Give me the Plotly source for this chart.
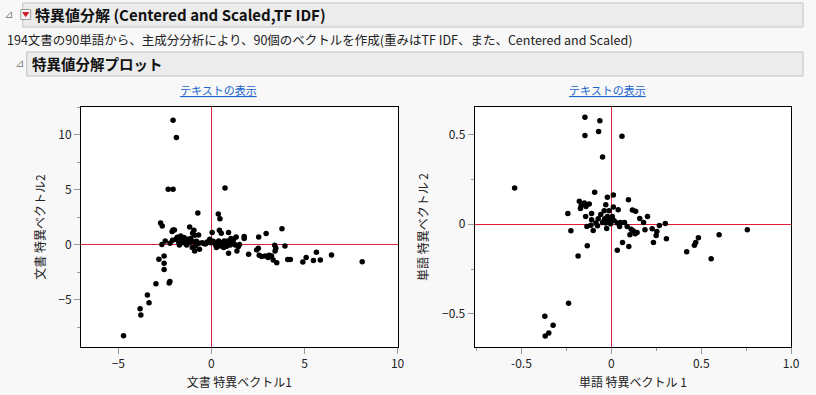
import plotly.graph_objects as go

W, H = 816, 395

# ---- data: document singular vectors (left plot) ----
doc_sv1 = [-2.06, -1.88, -2.32, -2.06, 0.73, -0.73, 0.37, 0.46, -2.73, -2.64,
           -1.17, 3.79, -2.06, -1.99, -2.11, -0.94, 0.04, 0.43, 0.53, 0.92,
           2.94, 2.54, 1.76, 1.76, 1.33, -0.69, -1.01, -0.90,
           -1.65, -1.83, -1.91, -2.09, -2.48, -2.66, -2.22, -1.72, -1.47, -1.38,
           -1.29, -1.21, -1.12, -1.03, -1.33, -1.51, -0.85, -0.67, -0.50, -0.32,
           -0.23, -0.09, -0.05, -1.03, -0.90, -0.64, -0.85, -1.65,
           0.21, 0.30, 0.39, 0.48, 0.66, 0.74, 0.83, 0.69, 0.92, 1.01,
           1.13, 1.19, 1.28, 1.37, 1.45, 1.51, 0.27, 0.57, 0.87, 1.05,
           2.00, 2.43, 2.52, 2.57, 2.70, 2.89, 3.05, 3.10, 3.23, 3.32,
           3.40, 3.46, 3.42, 3.51, 3.95, 4.10, 4.24, 4.91, 5.09, 5.48,
           5.64, 5.85, 6.45, 8.10,
           -2.82, -2.54, -2.54, -2.54, -2.23, -2.27, -2.98, -3.44, -3.35, -3.83,
           -3.79, -4.72,
           -1.55, -1.40, -1.10, -0.80, -0.40, 0.10, 0.60, 0.80, 1.20, -1.75]
doc_sv2 = [11.30, 9.73, 5.03, 5.03, 5.15, 2.88, 2.79, 2.36, 1.97, 1.70,
           1.61, 1.45, 1.33, 1.33, 1.18, 1.30, 1.09, 1.30, 1.03, 1.09,
           1.00, 0.70, 0.73, 0.55, 0.70, 0.88, 1.03, 0.85,
           0.79, 0.67, 0.48, 0.39, 0.33, 0.00, 0.12, -0.03, 0.64, 0.33,
           0.48, 0.18, 0.55, 0.33, -0.03, 0.18, 0.18, 0.12, 0.18, 0.06,
           0.24, 0.48, 0.18, -0.27, -0.58, -0.42, -0.12, 0.33,
           0.00, 0.18, 0.33, -0.12, -0.27, 0.12, -0.12, 0.33, -0.79, -0.03,
           0.18, 0.48, -0.03, -0.58, -0.18, 0.00, -0.27, 0.18, 0.33, 0.55,
           -0.88, -0.48, -0.33, -0.97, -1.09, -1.03, -1.18, -0.97, -1.03, -1.39,
           -0.06, -0.33, -0.58, -1.64, -0.12, -1.36, -1.36, -1.58, -1.18, -1.45,
           -0.70, -1.39, -0.94, -1.55,
           -1.33, -1.03, -1.70, -2.27, -3.36, -3.48, -3.55, -4.58, -5.27, -5.82,
           -6.39, -8.27,
           0.55, 0.40, 0.25, 0.30, 0.10, 0.30, 0.05, -0.15, 0.10, 0.20]

# ---- data: word singular vectors (right plot) ----
word_sv1 = [-0.147, -0.064, -0.147, -0.071, 0.059, -0.049, -0.538, -0.093, 0.011, -0.022,
            0.095, -0.178, -0.150, -0.123, -0.168, -0.141, -0.172, -0.031, 0.011, 0.038,
            -0.013, -0.040, 0.117, 0.135, -0.242, -0.110, -0.143, 0.201, 0.158, -0.110,
            -0.073, -0.037, -0.026, 0.000, 0.179, 0.033, 0.051, 0.073, 0.300, 0.267,
            -0.136, -0.114, -0.077, -0.026, 0.046, 0.088, 0.110, 0.121, 0.143, 0.132,
            0.103, 0.187, 0.227, 0.253, 0.249, 0.306, 0.234, -0.225, -0.101, 0.062,
            0.097, 0.033, -0.134, -0.185, 0.419, 0.462, 0.469, 0.484, 0.599, 0.555,
            0.756, -0.238, -0.370, -0.324, -0.348, -0.368,
            -0.049, -0.031, -0.013, -0.004, -0.040, -0.022, -0.059, 0.005, 0.015, -0.086]
word_sv2 = [0.595, 0.576, 0.493, 0.515, 0.489, 0.374, 0.201, 0.178, 0.162, 0.149,
            0.136, 0.128, 0.117, 0.112, 0.102, 0.098, 0.087, 0.108, 0.095, 0.080,
            0.074, 0.074, 0.078, 0.072, 0.059, 0.059, 0.043, 0.043, 0.032, 0.024,
            0.030, 0.030, 0.024, 0.030, 0.009, 0.006, 0.009, 0.009, 0.004, -0.007,
            -0.013, -0.006, -0.009, -0.024, -0.013, -0.013, -0.028, -0.037, -0.046, -0.054,
            -0.059, -0.032, -0.026, -0.041, -0.063, -0.082, -0.102, -0.037, -0.035, -0.102,
            -0.125, -0.145, -0.121, -0.177, -0.154, -0.117, -0.102, -0.076, -0.059, -0.193,
            -0.032, -0.441, -0.513, -0.563, -0.606, -0.623,
            0.009, 0.006, 0.015, 0.002, 0.020, 0.043, 0.054, 0.043, 0.020, 0.006]

# x / y tick values
left_x_ticks = [-5, 0, 5, 10]
left_y_ticks = [-5, 0, 5, 10]
right_x_ticks = [-0.5, 0, 0.5, 1.0]
right_x_labels = ["-0.5", "0", "0.5", "1.0"]
right_y_ticks = [-0.5, 0, 0.5]

JP = "Noto Sans CJK JP, Noto Sans, sans-serif"
TXT = "#222222"


def px(x):
    return x / W


def py(y):
    return 1 - y / H


fig = go.Figure()
fig.add_trace(go.Scatter(x=doc_sv1, y=doc_sv2, mode="markers",
                         marker=dict(color="black", size=5.5), xaxis="x", yaxis="y",
                         showlegend=False, hoverinfo="x+y"))
fig.add_trace(go.Scatter(x=word_sv1, y=word_sv2, mode="markers",
                         marker=dict(color="black", size=5.5), xaxis="x2", yaxis="y2",
                         showlegend=False, hoverinfo="x+y"))

ydom = [py(347), py(107)]
axis_common = dict(showline=True, linecolor="black", linewidth=1, mirror=True,
                   showgrid=False, zeroline=True, zerolinecolor="#e0203a", zerolinewidth=1,
                   ticks="outside", ticklen=6, tickcolor="#999999", tickwidth=1,
                   tickfont=dict(family=JP, size=12, color=TXT))

fig.update_layout(
    width=W, height=H, margin=dict(l=0, r=0, t=0, b=0),
    paper_bgcolor="#f8f8f8", plot_bgcolor="white",
    xaxis=dict(domain=[px(82), px(402)], range=[-7.0, 10.0], tickvals=left_x_ticks,
               title=dict(text="文書 特異ベクトル1", font=dict(family=JP, size=12, color=TXT), standoff=8),
               anchor="y", **axis_common),
    yaxis=dict(domain=ydom, range=[-9.3, 12.5], tickvals=left_y_ticks,
               minor=dict(dtick=2.5, ticks="outside", ticklen=3, tickcolor="#999999"),
               title=dict(text="文書 特異ベクトル2", font=dict(family=JP, size=12, color=TXT), standoff=10),
               anchor="x", **axis_common),
    xaxis2=dict(domain=[px(480), px(800)], range=[-0.76, 1.0], tickvals=right_x_ticks,
                ticktext=right_x_labels,
                minor=dict(dtick=0.25, tick0=0, ticks="outside", ticklen=3, tickcolor="#999999"),
                title=dict(text="単語 特異ベクトル 1", font=dict(family=JP, size=12, color=TXT), standoff=8),
                anchor="y2", **axis_common),
    yaxis2=dict(domain=ydom, range=[-0.684, 0.652], tickvals=right_y_ticks,
                minor=dict(dtick=0.25, tick0=0, ticks="outside", ticklen=3, tickcolor="#999999"),
                title=dict(text="単語 特異ベクトル 2", font=dict(family=JP, size=12, color=TXT), standoff=10),
                anchor="x2", **axis_common),
)

# header boxes
shapes = [
    dict(type="rect", xref="paper", yref="paper", x0=px(23), x1=px(812), y0=py(27), y1=py(3),
         fillcolor="#ececec", line=dict(color="#c2c2c2", width=1), layer="below"),
    dict(type="rect", xref="paper", yref="paper", x0=px(27), x1=px(812), y0=py(76), y1=py(52),
         fillcolor="#ececec", line=dict(color="#c2c2c2", width=1), layer="below"),
    # red menu button
    dict(type="rect", xref="paper", yref="paper", x0=px(21), x1=px(31), y0=py(19.5), y1=py(9.5),
         fillcolor="#f4f4f4", line=dict(color="#a0a0a0", width=1)),
    dict(type="path", xref="paper", yref="paper",
         path=f"M {px(23)},{py(12.5)} L {px(29)},{py(12.5)} L {px(26)},{py(16.5)} Z",
         fillcolor="#d0202a", line=dict(color="#d0202a", width=1)),
]
fig.update_layout(shapes=shapes)

ann = [
    dict(text="⊿", x=px(9), y=py(15), font=dict(family="DejaVu Sans", size=11, color="#888888")),
    dict(text="<b>特異値分解 (Centered and Scaled,TF IDF)</b>", x=px(33), y=py(15), xanchor="left",
         font=dict(family=JP, size=15, color="#111111")),
    dict(text="194文書の90単語から、主成分分析により、90個のベクトルを作成(重みはTF IDF、また、Centered and Scaled)",
         x=px(5), y=py(39.5), xanchor="left", font=dict(family=JP, size=12.5, color=TXT)),
    dict(text="⊿", x=px(20), y=py(64), font=dict(family="DejaVu Sans", size=11, color="#888888")),
    dict(text="<b>特異値分解プロット</b>", x=px(30), y=py(63.5), xanchor="left",
         font=dict(family=JP, size=14.5, color="#111111")),
    dict(text="<u>テキストの表示</u>", x=px(221), y=py(89.5),
         font=dict(family=JP, size=11, color="#1a66cc")),
    dict(text="<u>テキストの表示</u>", x=px(614), y=py(89.5),
         font=dict(family=JP, size=11, color="#1a66cc")),
]
for a in ann:
    a.setdefault("xanchor", "center")
    fig.add_annotation(xref="paper", yref="paper", showarrow=False, yanchor="middle", **a)

fig.write_html("out.html", config={"displayModeBar": False},
               post_script="document.body.style.margin='0';document.body.style.overflow='hidden';")
